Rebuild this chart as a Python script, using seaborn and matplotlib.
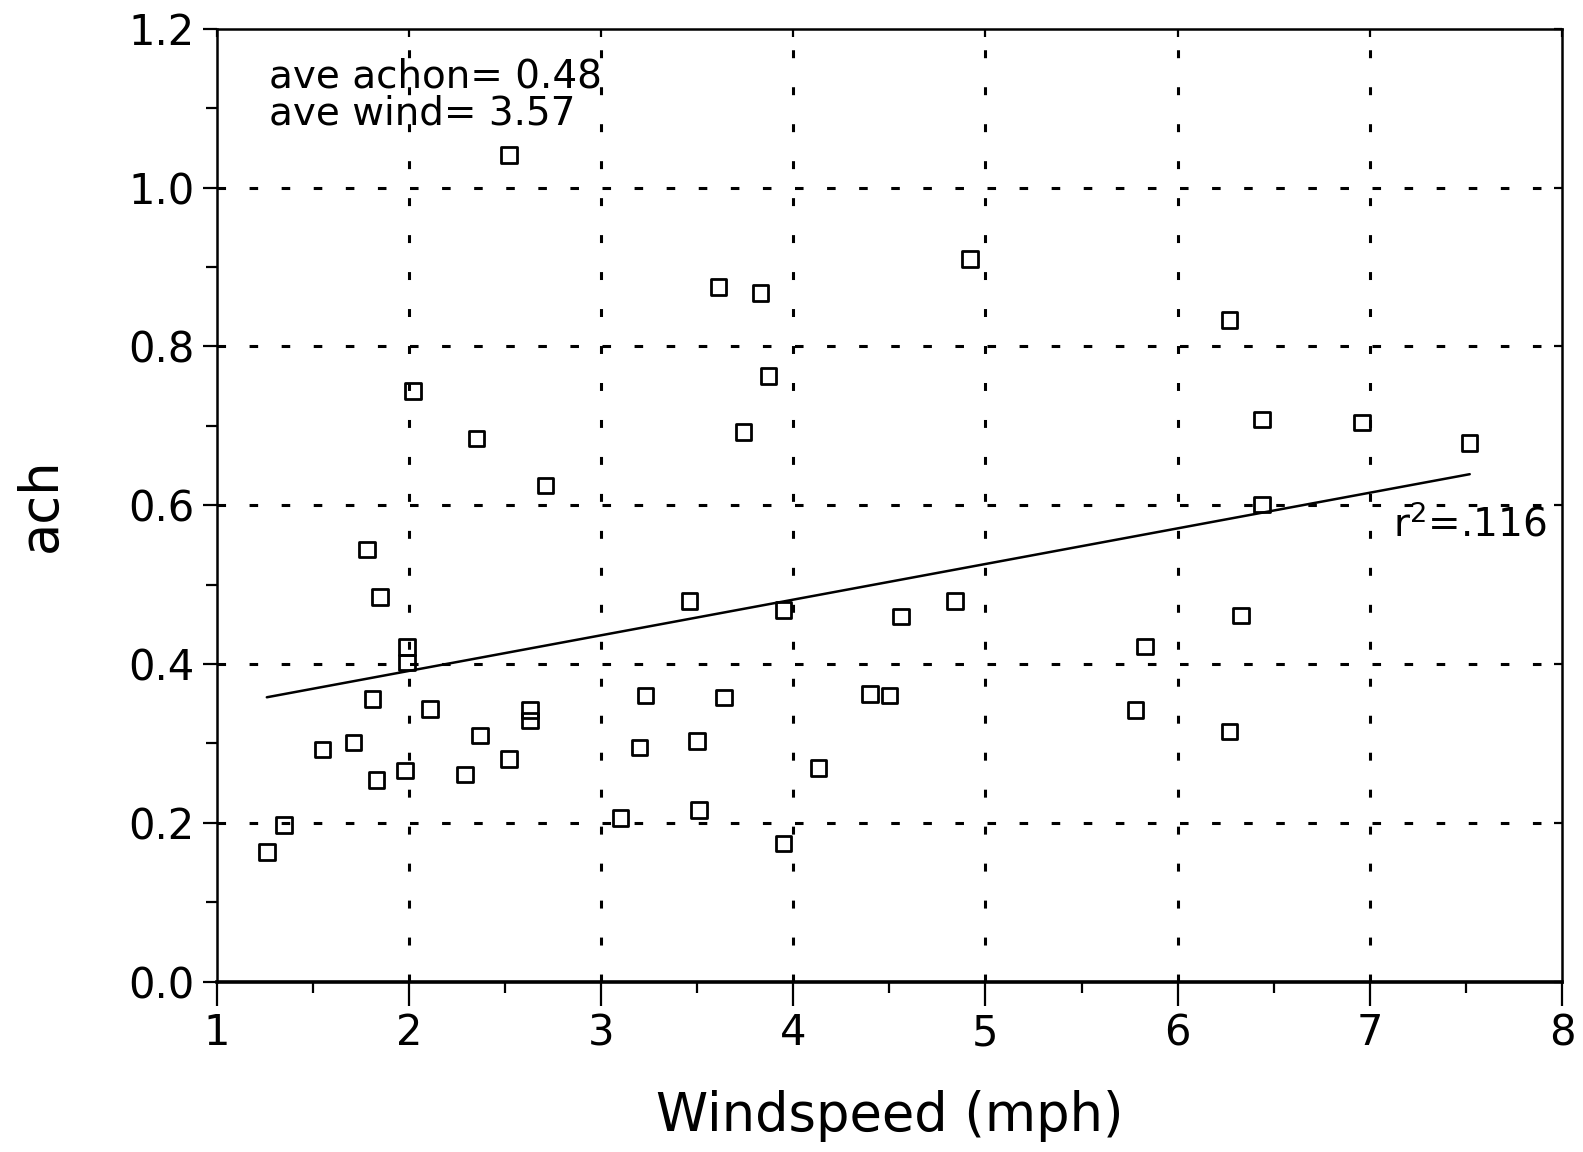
import matplotlib
matplotlib.use("Agg")
import matplotlib.pyplot as plt
import seaborn as sns
import numpy as np
import pandas as pd
from matplotlib.ticker import MultipleLocator

# ---- data ----
wind = [1.26, 1.35, 1.55, 1.71, 1.78, 1.81, 1.83, 1.85, 1.99, 1.99, 1.98, 2.02,
        2.11, 2.29, 2.35, 2.37, 2.52, 2.52, 2.63, 2.63, 2.71, 3.10, 3.20, 3.23,
        3.46, 3.50, 3.51, 3.61, 3.64, 3.74, 3.83, 3.87, 3.95, 3.95, 4.13, 4.40,
        4.50, 4.56, 4.84, 4.92, 5.78, 5.83, 6.27, 6.27, 6.33, 6.44, 6.44, 6.96,
        7.52]
ach = [0.163, 0.197, 0.292, 0.301, 0.544, 0.356, 0.254, 0.484, 0.421, 0.402,
       0.266, 0.744, 0.343, 0.261, 0.684, 0.310, 0.280, 1.041, 0.342, 0.329,
       0.625, 0.206, 0.295, 0.360, 0.479, 0.303, 0.216, 0.875, 0.358, 0.692,
       0.867, 0.763, 0.174, 0.468, 0.269, 0.362, 0.360, 0.460, 0.479, 0.910,
       0.342, 0.422, 0.833, 0.315, 0.461, 0.601, 0.708, 0.704, 0.678]
fit_x = [1.26, 7.52]
fit_y = [0.358, 0.639]
x_ticks = [1, 2, 3, 4, 5, 6, 7, 8]
y_ticks = [0.0, 0.2, 0.4, 0.6, 0.8, 1.0, 1.2]
y_tick_labels = ["0.0", "0.2", "0.4", "0.6", "0.8", "1.0", "1.2"]
note_lines = ["ave achon= 0.48", "ave wind= 3.57"]
r2_label = "r$^2$=.116"

df = pd.DataFrame({"wind": wind, "ach": ach})
fit = pd.DataFrame({"x": fit_x, "y": fit_y})

sns.set_style("ticks")
plt.rcParams["font.family"] = ["DejaVu Sans"]
plt.rcParams["text.color"] = "black"
plt.rcParams["axes.labelcolor"] = "black"
plt.rcParams["xtick.color"] = "black"
plt.rcParams["ytick.color"] = "black"
plt.rcParams["axes.edgecolor"] = "black"

fig = plt.figure(figsize=(15.83, 11.52), dpi=100)
ax = fig.add_axes([0.137, 0.148, 0.8497, 0.827])

# grid
for gx in x_ticks[1:-1]:
    ax.axvline(gx, color="black", lw=2.2, linestyle=(0, (2.6, 9.5)), zorder=1)
for gy in y_ticks[1:-1]:
    ax.axhline(gy, color="black", lw=2.2, linestyle=(0, (2.8, 7.7)), zorder=1)

sns.scatterplot(data=df, x="wind", y="ach", marker="s", s=125,
                facecolor="none", edgecolor="black", linewidth=2.0,
                ax=ax, zorder=3)
sns.lineplot(data=fit, x="x", y="y", color="black", lw=1.8, ax=ax, zorder=2)

ax.set_xlim(1, 8)
ax.set_ylim(0, 1.2)
ax.set_xticks(x_ticks)
ax.set_xticklabels([str(t) for t in x_ticks])
ax.set_yticks(y_ticks)
ax.set_yticklabels(y_tick_labels)
ax.xaxis.set_minor_locator(MultipleLocator(0.5))
ax.yaxis.set_minor_locator(MultipleLocator(0.1))

ax.tick_params(axis="x", which="major", direction="out", length=17, width=1.6,
               labelsize=30, pad=5)
ax.tick_params(axis="x", which="minor", direction="out", length=8, width=1.6)
ax.tick_params(axis="y", which="major", direction="out", length=10, width=1.6,
               labelsize=30, pad=6)
ax.tick_params(axis="y", which="minor", direction="out", length=8, width=1.6)

# small inward ticks on top and right
top = ax.secondary_xaxis("top")
top.set_xticks(x_ticks)
top.tick_params(direction="in", length=6, width=1.6, labeltop=False)
top.spines["top"].set_visible(False)
right = ax.secondary_yaxis("right")
right.set_yticks(y_ticks)
right.tick_params(direction="in", length=6, width=1.6, labelright=False)
right.spines["right"].set_visible(False)

for side in ["left", "right", "top"]:
    ax.spines[side].set_visible(True)
    ax.spines[side].set_linewidth(1.8)
ax.spines["bottom"].set_linewidth(2.6)

ax.set_xlabel("Windspeed (mph)", fontsize=38, labelpad=26)
ax.set_ylabel("ach", fontsize=38, labelpad=44)

ax.text(1.27, 1.14, note_lines[0], fontsize=28, va="center", ha="left")
ax.text(1.27, 1.093, note_lines[1], fontsize=28, va="center", ha="left")
ax.text(7.12, 0.575, r2_label, fontsize=28, va="center", ha="left")

fig.savefig("out.png", dpi=100)
